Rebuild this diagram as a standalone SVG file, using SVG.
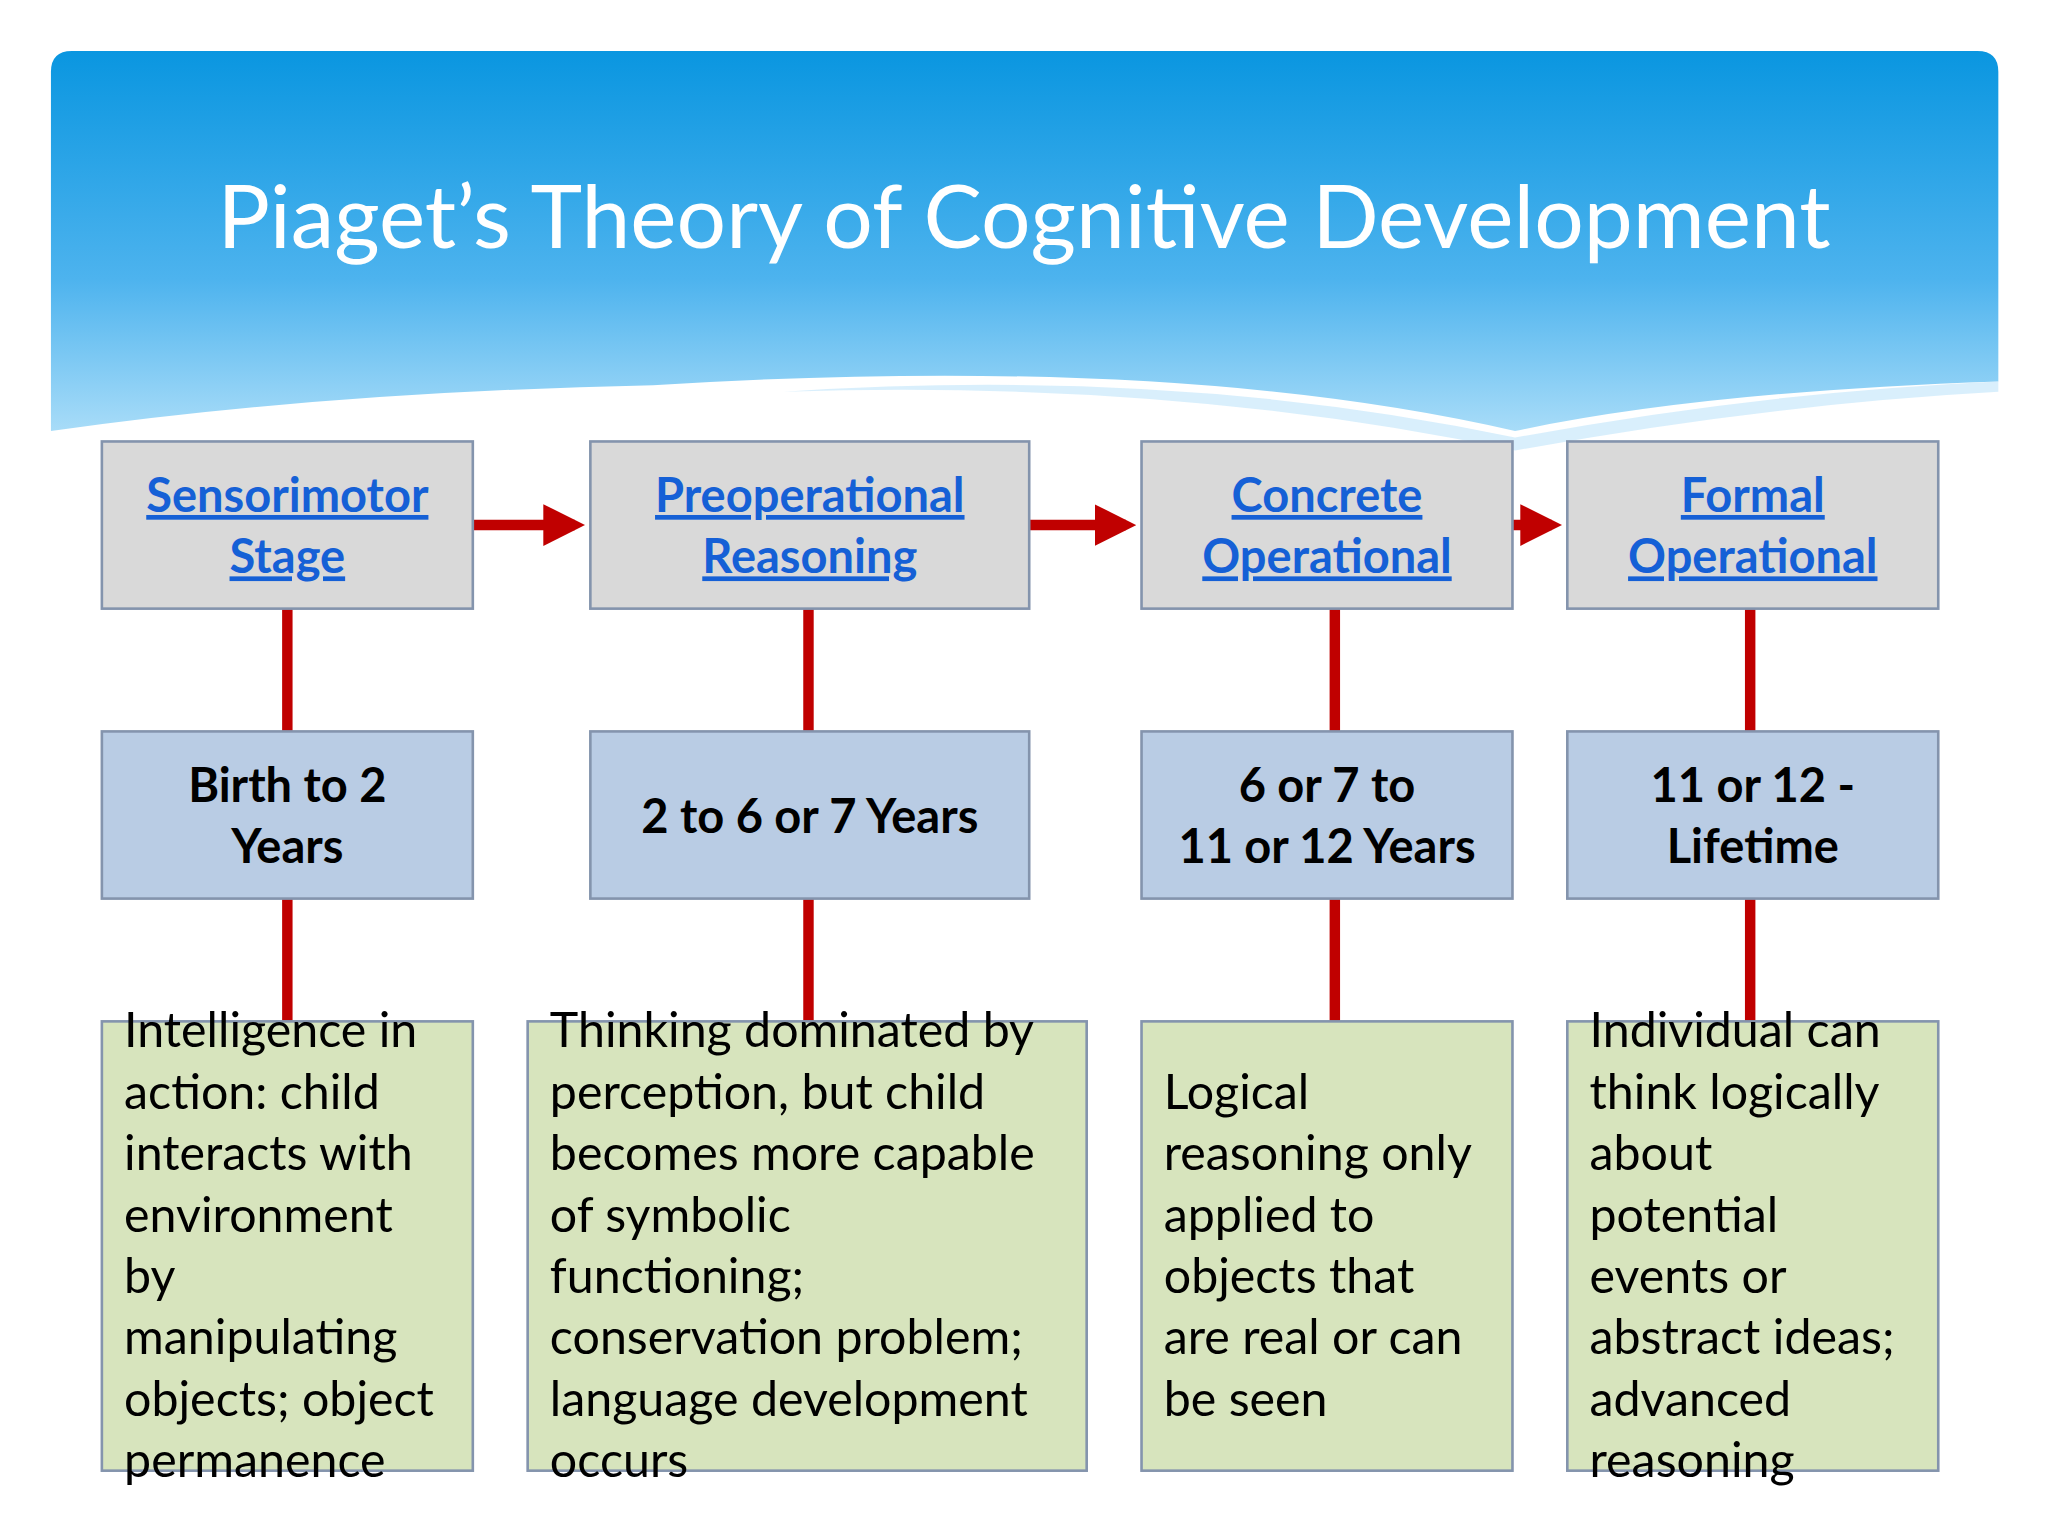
<svg xmlns="http://www.w3.org/2000/svg" width="2048" height="1536" viewBox="0 0 2048 1536">
<defs>
<linearGradient id="hg" x1="0" y1="0" x2="0" y2="1">
<stop offset="0" stop-color="#0a96e0"/><stop offset="0.6" stop-color="#4db3ee"/><stop offset="1" stop-color="#a8dcf8"/>
</linearGradient>
<marker id="ah" markerWidth="4" markerHeight="4" refX="3" refY="2" orient="auto" markerUnits="strokeWidth"><path d="M0,0 L4,2 L0,4 z" fill="#c00000"/></marker>
<style>
.t{font-family:Lato,"Open Sans",sans-serif}
.hd{fill:#d9d9d9;stroke:#8494ad;stroke-width:2}
.ag{fill:#b9cce4;stroke:#8494ad;stroke-width:2}
.ds{fill:#d7e4bd;stroke:#8494ad;stroke-width:2}
.hl{font-size:36px;font-weight:bold;fill:#1560d6;text-decoration:underline;text-anchor:middle}
.al{font-size:36px;font-weight:bold;fill:#000;text-anchor:middle}
.dl{font-size:37px;fill:#000}
.v{stroke:#c00000;stroke-width:8}
</style>
</defs>
<rect width="2048" height="1536" fill="#fff"/>
<g transform="scale(1.3061)">
<path d="M55,39 H1514 Q1530,39 1530,55 V292 Q1300,300 1160,330 Q900,270 500,295 Q250,300 39,330 V55 Q39,39 55,39 Z" fill="url(#hg)"/>
<path d="M600,300 Q900,280 1160,335 Q1350,300 1530,292 V300 Q1350,310 1160,345 Q900,290 600,300Z" fill="#bfe5fa" opacity="0.6"/>
<text class="t" x="784" y="190" font-size="67" fill="#fff" text-anchor="middle">Piaget’s Theory of Cognitive Development</text>
<g id="connectors">
<line class="v" x1="220" y1="466" x2="220" y2="782"/>
<line class="v" x1="619" y1="466" x2="619" y2="782"/>
<line class="v" x1="1022" y1="466" x2="1022" y2="782"/>
<line class="v" x1="1340" y1="466" x2="1340" y2="782"/>
<line stroke="#c00000" stroke-width="8" x1="362" y1="402" x2="440" y2="402" marker-end="url(#ah)"/>
<line stroke="#c00000" stroke-width="8" x1="788" y1="402" x2="862" y2="402" marker-end="url(#ah)"/>
<line stroke="#c00000" stroke-width="8" x1="1158" y1="402" x2="1188" y2="402" marker-end="url(#ah)"/>
</g>
<g id="s1"><rect class="hd" x="78" y="338" width="284" height="128"/><text class="t hl" x="220" y="392">Sensorimotor</text><text class="t hl" x="220" y="439">Stage</text></g>
<g id="s2"><rect class="hd" x="452" y="338" width="336" height="128"/><text class="t hl" x="620" y="392">Preoperational</text><text class="t hl" x="620" y="439">Reasoning</text></g>
<g id="s3"><rect class="hd" x="874" y="338" width="284" height="128"/><text class="t hl" x="1016" y="392">Concrete</text><text class="t hl" x="1016" y="439">Operational</text></g>
<g id="s4"><rect class="hd" x="1200" y="338" width="284" height="128"/><text class="t hl" x="1342" y="392">Formal</text><text class="t hl" x="1342" y="439">Operational</text></g>
<g id="a1"><rect class="ag" x="78" y="560" width="284" height="128"/><text class="t al" x="220" y="614">Birth to 2</text><text class="t al" x="220" y="661">Years</text></g>
<g id="a2"><rect class="ag" x="452" y="560" width="336" height="128"/><text class="t al" x="620" y="638">2 to 6 or 7 Years</text></g>
<g id="a3"><rect class="ag" x="874" y="560" width="284" height="128"/><text class="t al" x="1016" y="614">6 or 7 to</text><text class="t al" x="1016" y="661">11 or 12 Years</text></g>
<g id="a4"><rect class="ag" x="1200" y="560" width="284" height="128"/><text class="t al" x="1342" y="614">11 or 12 -</text><text class="t al" x="1342" y="661">Lifetime</text></g>
<g id="d1"><rect class="ds" x="78" y="782" width="284" height="344"/>
<text class="t dl" x="95" y="802">Intelligence in<tspan x="95" dy="47">action: child</tspan><tspan x="95" dy="47">interacts with</tspan><tspan x="95" dy="47">environment</tspan><tspan x="95" dy="47">by</tspan><tspan x="95" dy="47">manipulating</tspan><tspan x="95" dy="47">objects; object</tspan><tspan x="95" dy="47">permanence</tspan></text></g>
<g id="d2"><rect class="ds" x="404" y="782" width="428" height="344"/>
<text class="t dl" x="421" y="802">Thinking dominated by<tspan x="421" dy="47">perception, but child</tspan><tspan x="421" dy="47">becomes more capable</tspan><tspan x="421" dy="47">of symbolic</tspan><tspan x="421" dy="47">functioning;</tspan><tspan x="421" dy="47">conservation problem;</tspan><tspan x="421" dy="47">language development</tspan><tspan x="421" dy="47">occurs</tspan></text></g>
<g id="d3"><rect class="ds" x="874" y="782" width="284" height="344"/>
<text class="t dl" x="891" y="849">Logical<tspan x="891" dy="47">reasoning only</tspan><tspan x="891" dy="47">applied to</tspan><tspan x="891" dy="47">objects that</tspan><tspan x="891" dy="47">are real or can</tspan><tspan x="891" dy="47">be seen</tspan></text></g>
<g id="d4"><rect class="ds" x="1200" y="782" width="284" height="344"/>
<text class="t dl" x="1217" y="802">Individual can<tspan x="1217" dy="47">think logically</tspan><tspan x="1217" dy="47">about</tspan><tspan x="1217" dy="47">potential</tspan><tspan x="1217" dy="47">events or</tspan><tspan x="1217" dy="47">abstract ideas;</tspan><tspan x="1217" dy="47">advanced</tspan><tspan x="1217" dy="47">reasoning</tspan></text></g>
</g>
</svg>
